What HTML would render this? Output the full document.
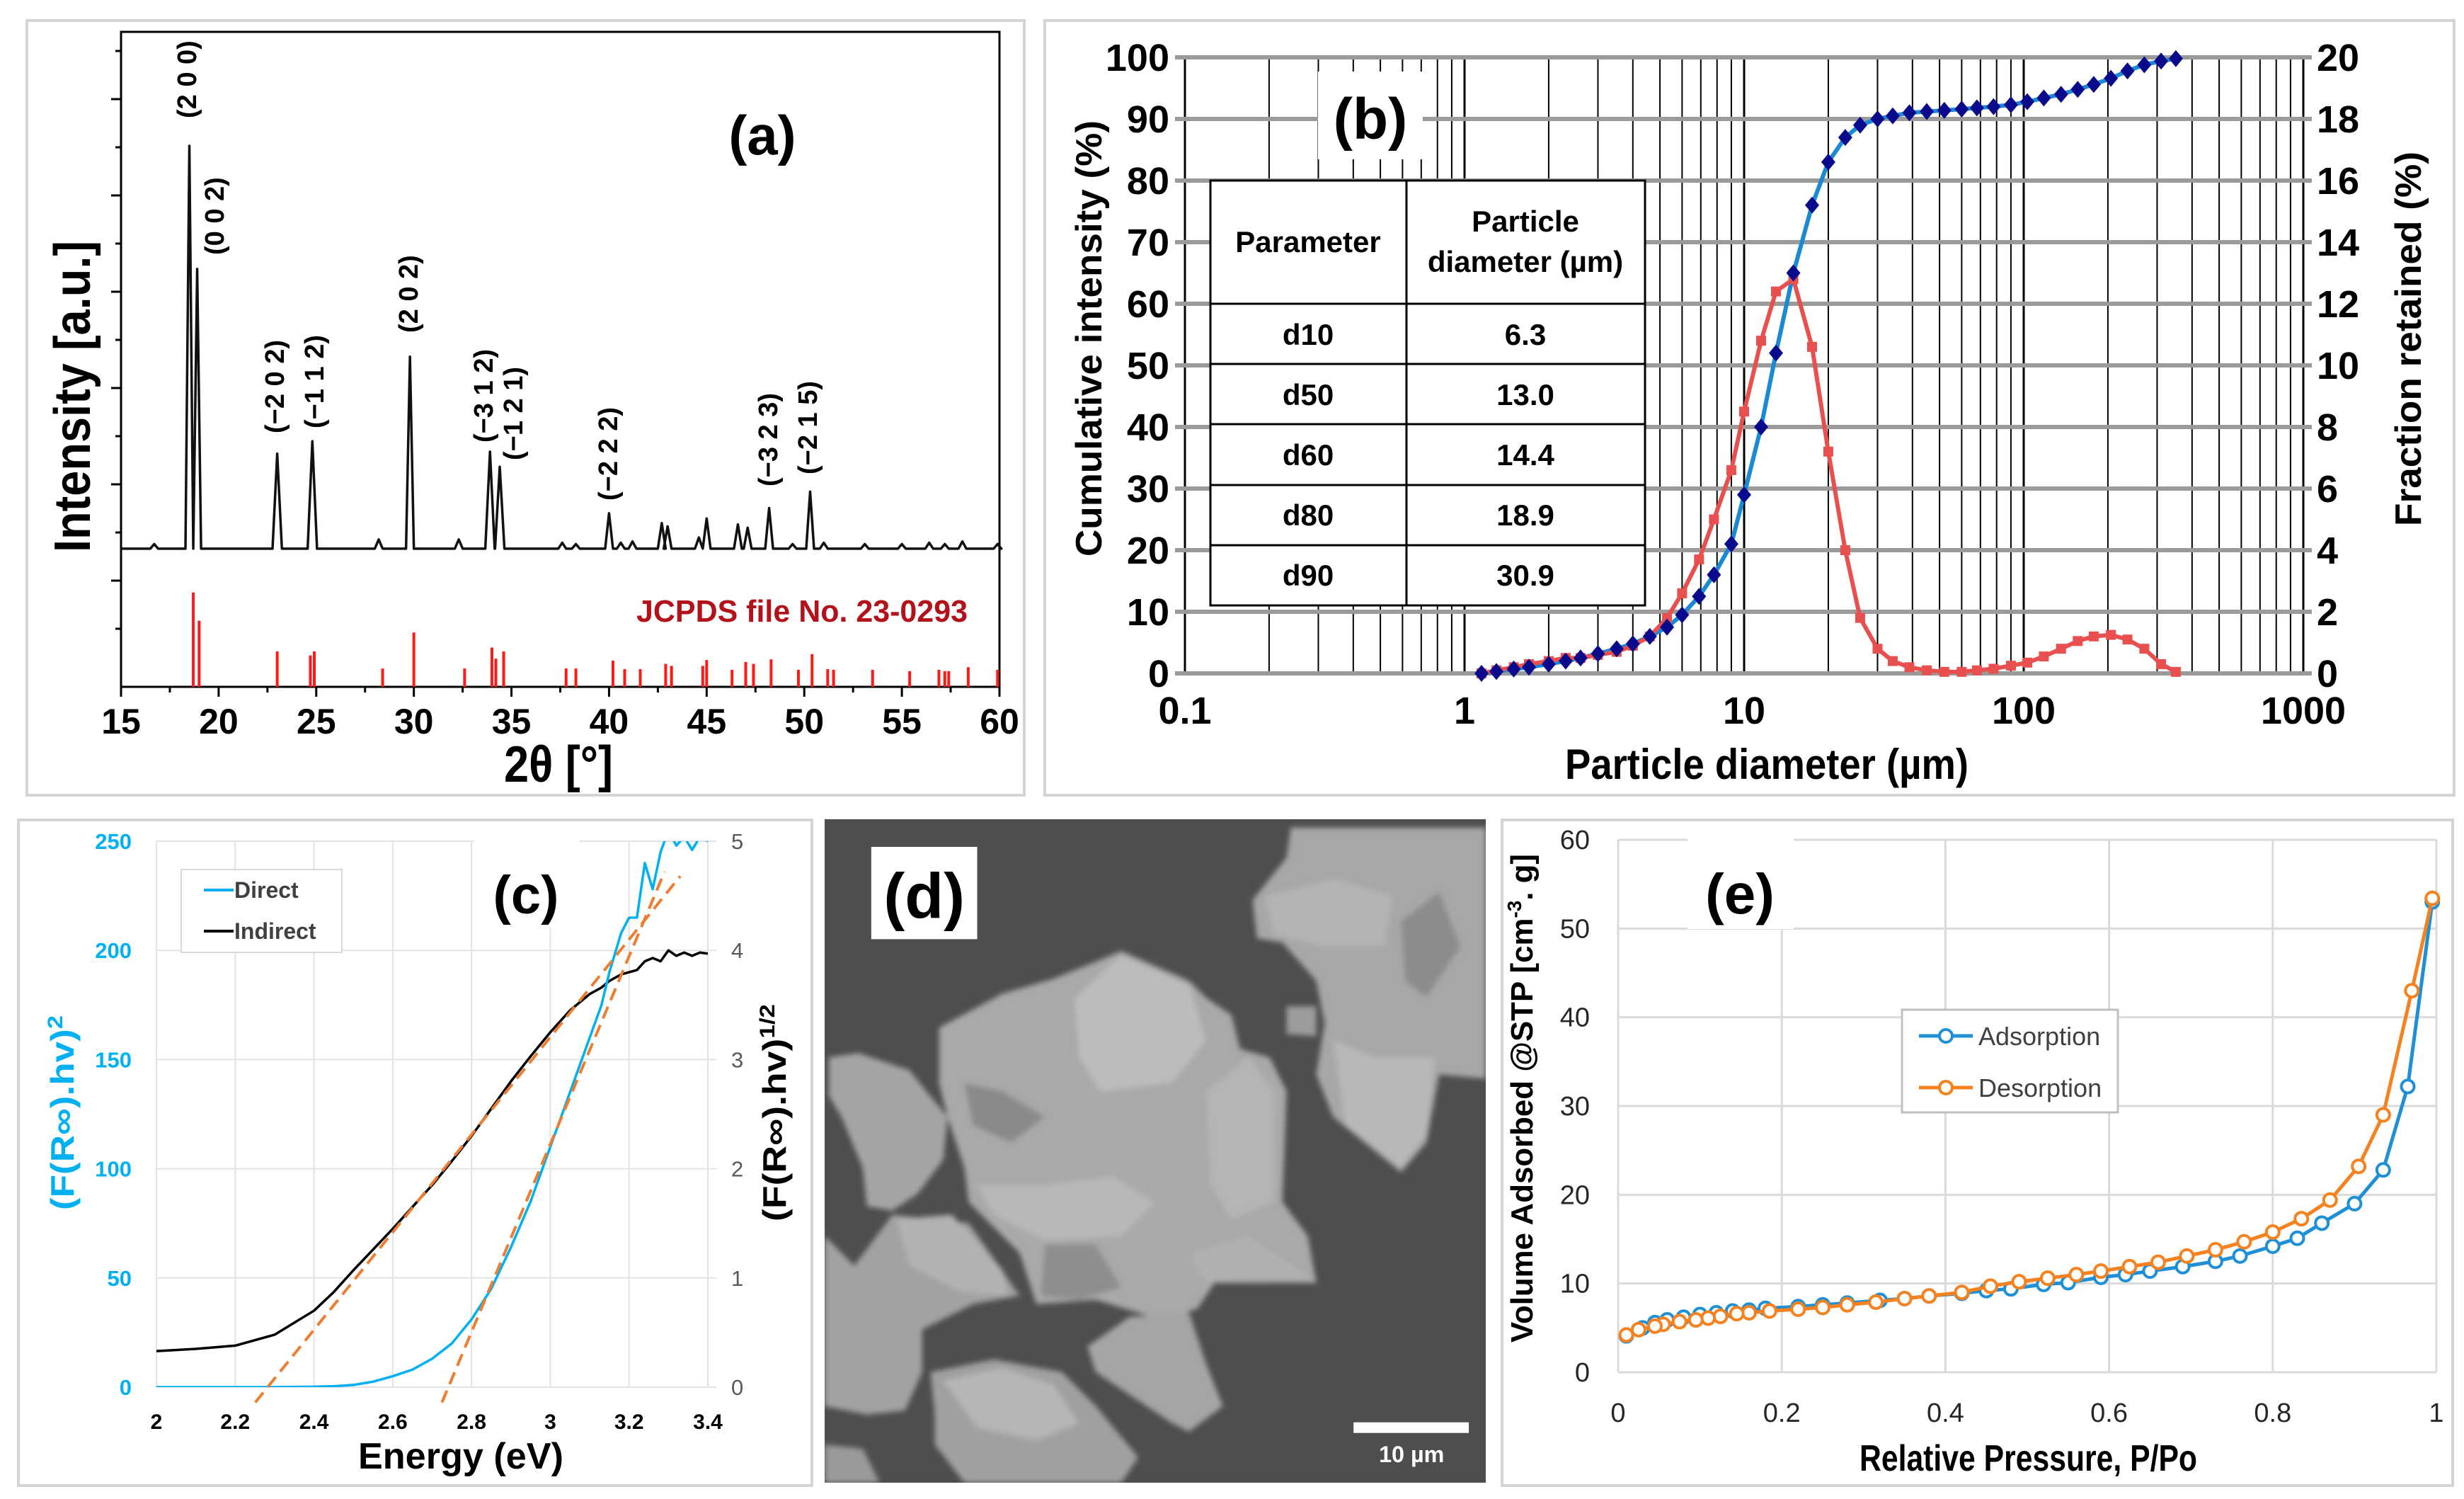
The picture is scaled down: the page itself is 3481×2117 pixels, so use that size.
<!DOCTYPE html>
<html>
<head>
<meta charset="utf-8">
<style>
body{margin:0;background:#fff}
svg{display:block}
text{font-family:"Liberation Sans",sans-serif}
.nar{font-family:"Liberation Sans Narrow","Liberation Sans",sans-serif}
</style>
</head>
<body>
<svg id="fig" xmlns="http://www.w3.org/2000/svg" width="3481" height="2117" viewBox="0 0 3481 2117">
<defs>
<clipPath id="clipC"><rect x="221" y="1188" width="779" height="771"/></clipPath>
</defs>
<rect width="3481" height="2117" fill="#fff"/>

<!-- ================= PANEL A ================= -->
<g id="panel-a">
<rect x="38" y="29" width="1409" height="1094" fill="none" stroke="#d4d4d4" stroke-width="4"/>
<rect x="171" y="45" width="1241" height="925" fill="none" stroke="#000" stroke-width="3"/>
<g id="plot-a"></g>
<text x="1077" y="218" font-size="78" font-weight="bold" text-anchor="middle">(a)</text>
<text x="899" y="878" font-size="44" font-weight="bold" fill="#b3121b" textLength="468" lengthAdjust="spacingAndGlyphs">JCPDS file No. 23-0293</text>
<text transform="translate(127,780) rotate(-90)" font-size="72" font-weight="bold" textLength="440" lengthAdjust="spacingAndGlyphs">Intensity [a.u.]</text>
<text x="712" y="1104" font-size="72" font-weight="bold" textLength="154" lengthAdjust="spacingAndGlyphs">2θ [°]</text>
<g font-size="38" font-weight="bold">
<text transform="translate(265,167) rotate(-90)" dominant-baseline="central">(2 0 0)</text>
<text transform="translate(304,360) rotate(-90)" dominant-baseline="central">(0 0 2)</text>
<text transform="translate(389,612) rotate(-90)" dominant-baseline="central">(−2 0 2)</text>
<text transform="translate(445,605) rotate(-90)" dominant-baseline="central">(−1 1 2)</text>
<text transform="translate(578,470) rotate(-90)" dominant-baseline="central">(2 0 2)</text>
<text transform="translate(684,625) rotate(-90)" dominant-baseline="central">(−3 1 2)</text>
<text transform="translate(726,650) rotate(-90)" dominant-baseline="central">(−1 2 1)</text>
<text transform="translate(860,707) rotate(-90)" dominant-baseline="central">(−2 2 2)</text>
<text transform="translate(1086,687) rotate(-90)" dominant-baseline="central">(−3 2 3)</text>
<text transform="translate(1142,670) rotate(-90)" dominant-baseline="central">(−2 1 5)</text>
</g>
</g>

<!-- ================= PANEL B ================= -->
<g id="panel-b">
<rect x="1476" y="29" width="1991" height="1094" fill="none" stroke="#d4d4d4" stroke-width="4"/>
<g id="grid-b"></g>
<rect x="1862" y="101" width="148" height="124" fill="#fff"/>
<text x="1936" y="196" font-size="82" font-weight="bold" text-anchor="middle" class="nar">(b)</text>
<g id="plot-b"></g>
<g class="nar" font-weight="bold" font-size="42" text-anchor="middle">
<rect x="1710" y="255" width="614" height="600" fill="#fff" stroke="#000" stroke-width="3"/>
<line x1="1987" y1="255" x2="1987" y2="855" stroke="#000" stroke-width="3"/>
<line x1="1710" y1="429" x2="2324" y2="429" stroke="#000" stroke-width="3"/>
<line x1="1710" y1="514" x2="2324" y2="514" stroke="#000" stroke-width="3"/>
<line x1="1710" y1="599" x2="2324" y2="599" stroke="#000" stroke-width="3"/>
<line x1="1710" y1="685" x2="2324" y2="685" stroke="#000" stroke-width="3"/>
<line x1="1710" y1="770" x2="2324" y2="770" stroke="#000" stroke-width="3"/>
<text x="1848" y="356">Parameter</text>
<text x="2155" y="327">Particle</text>
<text x="2155" y="384">diameter (µm)</text>
<text x="1848" y="487">d10</text><text x="2155" y="487">6.3</text>
<text x="1848" y="572">d50</text><text x="2155" y="572">13.0</text>
<text x="1848" y="657">d60</text><text x="2155" y="657">14.4</text>
<text x="1848" y="742">d80</text><text x="2155" y="742">18.9</text>
<text x="1848" y="827">d90</text><text x="2155" y="827">30.9</text>
</g>
<text transform="translate(1556,786) rotate(-90)" font-size="52" font-weight="bold" textLength="616" lengthAdjust="spacingAndGlyphs">Cumulative intensity (%)</text>
<text transform="translate(3420,743) rotate(-90)" font-size="52" font-weight="bold" textLength="529" lengthAdjust="spacingAndGlyphs">Fraction retained (%)</text>
<text x="2211" y="1100" font-size="60" font-weight="bold" class="nar" textLength="570" lengthAdjust="spacingAndGlyphs">Particle diameter (µm)</text>
</g>

<!-- ================= PANEL C ================= -->
<g id="panel-c">
<rect x="26" y="1158" width="1121" height="940" fill="none" stroke="#d4d4d4" stroke-width="4"/>
<g id="grid-c"></g>
<rect x="670" y="1180" width="148" height="130" fill="#fff"/>
<text x="743" y="1290" font-size="76" font-weight="bold" text-anchor="middle" class="nar">(c)</text>
<g id="plot-c" clip-path="url(#clipC)"></g>
<g>
<rect x="256" y="1228" width="227" height="117" fill="#fff" stroke="#d9d9d9" stroke-width="2"/>
<line x1="288" y1="1257" x2="330" y2="1257" stroke="#00b0f0" stroke-width="4"/>
<text x="331" y="1268" font-size="32" font-weight="bold" fill="#404040" class="nar">Direct</text>
<line x1="288" y1="1315" x2="330" y2="1315" stroke="#000" stroke-width="4"/>
<text x="331" y="1326" font-size="32" font-weight="bold" fill="#404040" class="nar">Indirect</text>
</g>
<text transform="translate(104,1709) rotate(-90)" font-size="46" font-weight="bold" fill="#00b0f0" textLength="275" lengthAdjust="spacingAndGlyphs">(F(R∞).hv)<tspan font-size="30" dy="-16">2</tspan></text>
<text transform="translate(1110,1725) rotate(-90)" font-size="46" font-weight="bold" fill="#000" textLength="307" lengthAdjust="spacingAndGlyphs">(F(R∞).hv)<tspan font-size="30" dy="-16">1/2</tspan></text>
<text x="506" y="2074" font-size="52" font-weight="bold" textLength="290" lengthAdjust="spacingAndGlyphs">Energy (eV)</text>
</g>

<!-- ================= PANEL D (SEM) ================= -->
<g id="panel-d">
<svg x="1165" y="1157" width="934" height="937" viewBox="0 0 1560 1560" preserveAspectRatio="none">
<defs><filter id="blurSem" x="-10%" y="-10%" width="120%" height="120%"><feGaussianBlur stdDeviation="6"/></filter></defs>
<rect width="1560" height="1560" fill="#4e4e4e"/>
<g filter="url(#blurSem)">
<polygon fill="#a4a4a4" points="10,560 80,550 200,590 240,640 290,700 280,800 220,880 160,920 100,910 90,820 40,700 10,650"/>
<polygon fill="#a9a9a9" points="270,490 420,410 540,375 640,335 700,310 860,380 900,420 960,460 980,540 1050,560 1090,640 1080,900 1140,980 1160,1090 920,1090 880,1150 800,1180 740,1160 640,1130 500,1140 460,1020 400,960 340,900 330,820 290,700 270,620"/>
<polygon fill="#a7a7a7" points="1010,190 1090,90 1100,20 1560,20 1560,610 1450,600 1420,760 1360,830 1200,700 1160,600 1180,480 1160,380 1080,290 1020,280"/>
<polygon fill="#9c9c9c" points="1090,440 1160,440 1160,510 1090,505"/>
<polygon fill="#a2a2a2" points="0,980 70,1050 160,930 340,950 460,1120 350,1140 230,1200 230,1300 190,1390 100,1400 0,1380"/>
<polygon fill="#a5a5a5" points="620,1240 720,1170 860,1160 900,1280 940,1380 860,1440 820,1420 730,1360 640,1300"/>
<polygon fill="#a0a0a0" points="250,1300 400,1270 560,1300 640,1380 740,1500 700,1560 330,1560 260,1470 260,1400"/>
<polygon fill="#9a9a9a" points="0,1470 90,1480 130,1560 0,1560"/>
<polygon fill="#bcbcbc" points="590,420 700,320 860,390 900,520 820,620 650,640 600,560"/>
<polygon fill="#b5b5b5" points="900,640 1000,560 1060,640 1060,900 960,940 910,860"/>
<polygon fill="#b8b8b8" points="360,860 520,860 680,840 780,900 700,980 520,990 400,930"/>
<polygon fill="#b4b4b4" points="1040,180 1200,140 1340,180 1320,300 1180,300 1060,270"/>
<polygon fill="#b8b8b8" points="1200,520 1300,560 1440,560 1420,740 1360,820 1230,720"/>
<polygon fill="#b2b2b2" points="170,940 300,930 420,1060 430,1120 320,1110 200,1050"/>
<polygon fill="#b0b0b0" points="860,1020 1000,980 1150,1080 900,1090"/>
<polygon fill="#8a8a8a" points="330,620 420,640 520,700 440,760 350,720"/>
<polygon fill="#8e8e8e" points="520,1000 640,1000 700,1100 600,1130 510,1120"/>
<polygon fill="#8c8c8c" points="1360,240 1450,170 1500,300 1420,420 1370,380"/>
<polygon fill="#b6b6b6" points="280,1320 420,1290 540,1330 600,1420 500,1460 360,1430"/>
</g>
<rect x="110" y="65" width="250" height="217" fill="#fff"/>
<text x="235" y="232" font-size="150" font-weight="bold" text-anchor="middle">(d)</text>
<rect x="1248" y="1418" width="272" height="25" fill="#fff"/>
<text x="1385" y="1512" font-size="54" font-weight="bold" fill="#fff" text-anchor="middle">10 µm</text>
</svg>
</g>

<!-- ================= PANEL E ================= -->
<g id="panel-e">
<rect x="2122" y="1158" width="1343" height="940" fill="none" stroke="#d4d4d4" stroke-width="4"/>
<g id="grid-e"></g>
<rect x="2384" y="1180" width="150" height="132" fill="#fff"/>
<text x="2458" y="1290" font-size="80" font-weight="bold" text-anchor="middle" class="nar">(e)</text>
<g id="plot-e"></g>
<g>
<rect x="2687" y="1426" width="305" height="145" fill="#fff" stroke="#bfbfbf" stroke-width="3"/>
<line x1="2711" y1="1463" x2="2787" y2="1463" stroke="#1f8fd6" stroke-width="5"/>
<circle cx="2749" cy="1463" r="9" fill="#fff" stroke="#1f8fd6" stroke-width="4"/>
<text x="2795" y="1476" font-size="36" fill="#404040" class="nar">Adsorption</text>
<line x1="2711" y1="1536" x2="2787" y2="1536" stroke="#f5821f" stroke-width="5"/>
<circle cx="2749" cy="1536" r="9" fill="#fff" stroke="#f5821f" stroke-width="4"/>
<text x="2795" y="1549" font-size="36" fill="#404040" class="nar">Desorption</text>
</g>
<text transform="translate(2165,1896) rotate(-90)" font-size="44" font-weight="bold" textLength="690" lengthAdjust="spacingAndGlyphs">Volume Adsorbed  @STP [cm<tspan font-size="28" dy="-16">-3</tspan><tspan dy="16">. g]</tspan></text>
<text x="2627" y="2077" font-size="52" font-weight="bold" class="nar" textLength="477" lengthAdjust="spacingAndGlyphs">Relative Pressure, P/Po</text>
</g>
</svg>

<script>
// ---------- Panel A data ----------
const xrdBaseline = 211;
const xrdPeakPos = [16.7, 18.5, 18.9, 23.0, 24.8, 28.2, 29.8, 32.3, 33.9, 34.4, 37.6, 38.3, 40.0, 40.6, 41.2, 42.7, 43.0, 44.6, 45.0, 46.6, 47.1, 48.2, 49.4, 50.3, 51.0, 53.1, 55.0, 56.4, 57.2, 58.1, 59.9];
const xrdPeakInt = [218, 826, 638, 356, 375, 225, 504, 225, 359, 336, 220, 218, 265, 220, 222, 250, 245, 228, 257, 248, 243, 273, 218, 298, 220, 218, 218, 220, 218, 222, 218];
const refPos = [18.7, 19.0, 23.0, 24.7, 24.9, 28.4, 30.0, 32.6, 34.0, 34.2, 34.6, 37.8, 38.3, 40.2, 40.8, 41.6, 42.9, 43.2, 44.8, 45.0, 46.3, 47.0, 47.4, 48.3, 49.7, 50.4, 51.2, 51.5, 53.5, 55.4, 56.9, 57.2, 57.4, 58.4, 59.9];
const refInt = [144, 101, 54, 48, 54, 28, 83, 28, 60, 43, 54, 28, 28, 40, 27, 27, 35, 32, 32, 41, 26, 38, 35, 42, 26, 50, 27, 26, 26, 24, 26, 24, 24, 30, 26];
const xrdTicks = [15, 20, 25, 30, 35, 40, 45, 50, 55, 60];

// ---------- Panel B data ----------
const psdSize = [1.15, 1.3, 1.5, 1.7, 2, 2.3, 2.6, 3, 3.5, 4, 4.6, 5.3, 6, 6.9, 7.8, 9, 10, 11.5, 13, 15, 17.5, 20, 23, 26, 30, 34, 39, 45, 52, 60, 68, 78, 90, 103, 118, 136, 156, 178, 205, 235, 270, 310, 350];
const psdCumulative = [0, 0.3, 0.7, 1, 1.5, 2, 2.5, 3.2, 4, 4.8, 6, 7.5, 9.5, 12.5, 16, 21, 29, 40, 52, 65, 76, 83, 87, 89, 90, 90.5, 91, 91.2, 91.4, 91.6, 91.8, 92, 92.3, 92.8, 93.4, 94, 94.8, 95.6, 96.6, 97.8, 98.8, 99.4, 99.8];
const psdFraction = [0, 0.1, 0.2, 0.3, 0.4, 0.5, 0.5, 0.6, 0.7, 0.9, 1.2, 1.8, 2.6, 3.7, 5, 6.6, 8.5, 10.8, 12.4, 12.8, 10.6, 7.2, 4.0, 1.8, 0.8, 0.4, 0.2, 0.1, 0.05, 0.05, 0.1, 0.15, 0.25, 0.35, 0.55, 0.8, 1.05, 1.2, 1.25, 1.1, 0.8, 0.3, 0.05];
const psdXTicks = [0.1, 1, 10, 100, 1000];
const psdXTickLabels = ["0.1", "1", "10", "100", "1000"];
const psdLeftTicks = [0, 10, 20, 30, 40, 50, 60, 70, 80, 90, 100];
const psdRightTicks = [0, 2, 4, 6, 8, 10, 12, 14, 16, 18, 20];

// ---------- Panel C data ----------
const energy = [2, 2.1, 2.2, 2.3, 2.4, 2.45, 2.5, 2.55, 2.6, 2.65, 2.7, 2.75, 2.8, 2.85, 2.9, 2.95, 3.0, 3.05, 3.1, 3.13, 3.15, 3.18, 3.2, 3.22, 3.24, 3.26, 3.28, 3.3, 3.32, 3.34, 3.36, 3.38, 3.4];
const directVals = [0, 0, 0, 0, 0.2, 0.4, 1, 2.5, 5, 8, 13, 20, 31, 45, 64, 85, 110, 135, 160, 175, 190, 208, 215, 215, 240, 228, 245, 255, 248, 252, 246, 252, 250];
const indirectVals = [0.33, 0.35, 0.38, 0.48, 0.7, 0.87, 1.07, 1.26, 1.45, 1.65, 1.85, 2.07, 2.3, 2.55, 2.8, 3.03, 3.25, 3.45, 3.6, 3.66, 3.72, 3.78, 3.8, 3.82, 3.9, 3.93, 3.9, 4.0, 3.95, 3.98, 3.95, 3.98, 3.97];
const tangentDirectE = [2.725, 3.29];
const tangentDirectV = [-7, 236];
const tangentIndirectE = [2.251, 3.33];
const tangentIndirectV = [-0.14, 4.68];
const energyTicks = [2, 2.2, 2.4, 2.6, 2.8, 3, 3.2, 3.4];
const directTicks = [0, 50, 100, 150, 200, 250];
const indirectTicks = [0, 1, 2, 3, 4, 5];

// ---------- Panel E data ----------
const adsP = [0.01, 0.03, 0.045, 0.06, 0.08, 0.1, 0.12, 0.14, 0.16, 0.18, 0.22, 0.25, 0.28, 0.32, 0.35, 0.38, 0.42, 0.45, 0.48, 0.52, 0.55, 0.59, 0.62, 0.65, 0.69, 0.73, 0.76, 0.8, 0.83, 0.86, 0.9, 0.935, 0.965, 0.995];
const adsV = [4.1, 5.0, 5.6, 5.9, 6.2, 6.5, 6.7, 6.9, 7.0, 7.2, 7.4, 7.6, 7.8, 8.1, 8.3, 8.6, 8.9, 9.2, 9.4, 9.9, 10.1, 10.7, 11.0, 11.4, 11.9, 12.5, 13.1, 14.2, 15.1, 16.8, 19.0, 22.8, 32.2, 53.0];
const desP = [0.995, 0.97, 0.935, 0.905, 0.87, 0.835, 0.8, 0.765, 0.73, 0.695, 0.66, 0.625, 0.59, 0.56, 0.525, 0.49, 0.455, 0.42, 0.38, 0.35, 0.315, 0.28, 0.25, 0.22, 0.185, 0.16, 0.145, 0.125, 0.11, 0.095, 0.075, 0.055, 0.045, 0.025, 0.01];
const desV = [53.4, 43.0, 29.0, 23.2, 19.4, 17.3, 15.8, 14.7, 13.8, 13.1, 12.4, 11.9, 11.4, 11.0, 10.6, 10.2, 9.7, 9.0, 8.6, 8.3, 7.9, 7.6, 7.3, 7.1, 6.9, 6.7, 6.6, 6.3, 6.1, 5.9, 5.7, 5.4, 5.2, 4.8, 4.2];
const pressureTicks = [0, 0.2, 0.4, 0.6, 0.8, 1];
const volumeTicks = [0, 10, 20, 30, 40, 50, 60];

const NS = 'http://www.w3.org/2000/svg';
function add(parent, tag, attrs, txt) {
  const e = document.createElementNS(NS, tag);
  for (const k in attrs) e.setAttribute(k, attrs[k]);
  if (txt !== undefined) e.textContent = txt;
  parent.appendChild(e);
  return e;
}

// ================= PANEL A =================
(function () {
  const g = document.getElementById('plot-a');
  const xA = v => 171 + (v - 15) / 45 * 1241;
  const yA = v => 970 - v * 0.925;
  for (let k = 0; k < 13; k++) {
    const y = 72 + 68 * k;
    const t = add(g, 'line', { x1: 171, x2: k % 2 ? 157 : 163, y1: y, y2: y, stroke: '#000', 'stroke-width': 3 });
    
    
  }
  xrdTicks.forEach((v, i) => {
    const t = add(g, 'line', { x1: xA(v), x2: xA(v), y1: 970, y2: 984, stroke: '#000', 'stroke-width': 3 });
    
    
    const l = add(g, 'text', { x: xA(v), y: 1036, 'font-size': 50, 'font-weight': 'bold', 'text-anchor': 'middle' }, String(v));
    
    
    if (i < xrdTicks.length - 1) {
      const m = add(g, 'line', { x1: xA(v + 2.5), x2: xA(v + 2.5), y1: 970, y2: 978, stroke: '#000', 'stroke-width': 3 });
      
      
    }
  });
  let d = `M${xA(15)},${yA(xrdBaseline)}`;
  xrdPeakPos.forEach((p, i) => {
    const w = xrdPeakInt[i] > 500 ? 0.2 : (xrdPeakInt[i] > 300 ? 0.24 : 0.2);
    d += ` L${xA(p - w)},${yA(xrdBaseline)} L${xA(p)},${yA(xrdPeakInt[i])} L${xA(p + w)},${yA(xrdBaseline)}`;
  });
  d += ` L${xA(60)},${yA(xrdBaseline)}`;
  const path = add(g, 'path', { d: d, fill: 'none', stroke: '#111', 'stroke-width': 3.5, 'stroke-linejoin': 'round' });
  
  
  refPos.forEach((p, i) => {
    const s = add(g, 'line', { x1: xA(p), x2: xA(p), y1: yA(0), y2: yA(refInt[i]), stroke: '#ff1a1a', 'stroke-width': 4 });
    
    
  });
})();

// ================= PANEL B =================
(function () {
  const grid = document.getElementById('grid-b');
  const g = document.getElementById('plot-b');
  const xB = v => 1674 + (Math.log10(v) + 1) * 395;
  const yL = v => 951 - v * 8.7;
  const yR = v => 951 - v * 43.5;
  for (let dec = -1; dec <= 2; dec++) {
    for (let m = 1; m <= 9; m++) {
      const v = m * Math.pow(10, dec);
      const l = add(grid, 'line', { x1: xB(v), x2: xB(v), y1: 81, y2: 951, stroke: '#000', 'stroke-width': m === 1 ? 3 : 2 });
      
      
    }
  }
  const lEnd = add(grid, 'line', { x1: xB(1000), x2: xB(1000), y1: 81, y2: 951, stroke: '#000', 'stroke-width': 3 });
  
  
  psdLeftTicks.forEach(v => {
    const h = add(grid, 'line', { x1: 1660, x2: 3266, y1: yL(v), y2: yL(v), stroke: '#9a9a9a', 'stroke-width': 6 });
    
    
    const t = add(grid, 'text', { x: 1652, y: yL(v) + 19, 'font-size': 54, 'font-weight': 'bold', 'text-anchor': 'end', class: 'nar' }, String(v));
    
    
  });
  psdRightTicks.forEach(v => {
    const t = add(grid, 'text', { x: 3273, y: yR(v) + 19, 'font-size': 54, 'font-weight': 'bold', class: 'nar' }, String(v));
    
    
  });
  psdXTicks.forEach((v, i) => {
    const t = add(grid, 'text', { x: xB(v), y: 1022, 'font-size': 54, 'font-weight': 'bold', 'text-anchor': 'middle', class: 'nar' }, psdXTickLabels[i]);
    
    
  });
  const cumPts = psdSize.map((s, i) => `${xB(s)},${yL(psdCumulative[i])}`).join(' ');
  const cl = add(g, 'polyline', { points: cumPts, fill: 'none', stroke: '#1a8ad4', 'stroke-width': 6, 'stroke-linejoin': 'round' });
  
  
  const frPts = psdSize.map((s, i) => `${xB(s)},${yR(psdFraction[i])}`).join(' ');
  const fl = add(g, 'polyline', { points: frPts, fill: 'none', stroke: '#e8504f', 'stroke-width': 6, 'stroke-linejoin': 'round' });
  
  
  psdSize.forEach((s, i) => {
    const x = xB(s), y = yR(psdFraction[i]);
    const sq = add(g, 'rect', { x: x - 7, y: y - 7, width: 14, height: 14, fill: '#e8504f' });
    
    
  });
  psdSize.forEach((s, i) => {
    const x = xB(s), y = yL(psdCumulative[i]);
    const dm = add(g, 'polygon', { points: `${x},${y - 12} ${x + 10},${y} ${x},${y + 12} ${x - 10},${y}`, fill: '#0a0a8c' });
    
    
  });
})();

// ================= PANEL C =================
(function () {
  const grid = document.getElementById('grid-c');
  const g = document.getElementById('plot-c');
  const xC = v => 221 + (v - 2) / 1.4 * 779;
  const yL = v => 1959 - v / 250 * 771;
  const yR = v => 1959 - v / 5 * 771;
  energyTicks.forEach(v => {
    const l = add(grid, 'line', { x1: xC(v), x2: xC(v), y1: 1188, y2: 1959, stroke: '#e3e3e3', 'stroke-width': 2 });
    
    
    const t = add(grid, 'text', { x: xC(v), y: 2018, 'font-size': 30, 'font-weight': 'bold', 'text-anchor': 'middle' }, String(v));
    
    
  });
  directTicks.forEach(v => {
    const l = add(grid, 'line', { x1: 221, x2: 1012, y1: yL(v), y2: yL(v), stroke: '#e3e3e3', 'stroke-width': 2 });
    
    
    const t = add(grid, 'text', { x: 186, y: yL(v) + 11, 'font-size': 31, 'font-weight': 'bold', 'text-anchor': 'end', fill: '#00b0f0' }, String(v));
    
    
  });
  indirectTicks.forEach(v => {
    const t = add(grid, 'text', { x: 1033, y: yR(v) + 11, 'font-size': 31, fill: '#595959' }, String(v));
    
    
  });
  const ind = add(g, 'polyline', { points: energy.map((e, i) => `${xC(e)},${yR(indirectVals[i])}`).join(' '), fill: 'none', stroke: '#000', 'stroke-width': 3.5, 'stroke-linejoin': 'round' });
  
  
  const dir = add(g, 'polyline', { points: energy.map((e, i) => `${xC(e)},${yL(directVals[i])}`).join(' '), fill: 'none', stroke: '#00b0f0', 'stroke-width': 3.5, 'stroke-linejoin': 'round' });
  
  
  const gAll = document.getElementById('panel-c');
  const t1 = add(gAll, 'line', { x1: xC(tangentDirectE[0]), y1: yL(tangentDirectV[0]), x2: xC(tangentDirectE[1]), y2: yL(tangentDirectV[1]), stroke: '#ed7d31', 'stroke-width': 4, 'stroke-dasharray': '18 10' });
  
  
  const t2 = add(gAll, 'line', { x1: xC(tangentIndirectE[0]), y1: yR(tangentIndirectV[0]), x2: xC(tangentIndirectE[1]), y2: yR(tangentIndirectV[1]), stroke: '#ed7d31', 'stroke-width': 4, 'stroke-dasharray': '18 10' });
  
  
})();

// ================= PANEL E =================
(function () {
  const grid = document.getElementById('grid-e');
  const g = document.getElementById('plot-e');
  const xE = v => 2286 + v * 1156;
  const yE = v => 1938 - v / 60 * 752;
  pressureTicks.forEach(v => {
    const l = add(grid, 'line', { x1: xE(v), x2: xE(v), y1: 1186, y2: 1938, stroke: '#dadada', 'stroke-width': 3 });
    
    
    const t = add(grid, 'text', { x: xE(v), y: 2008, 'font-size': 38, 'text-anchor': 'middle', class: 'nar', fill: '#262626' }, String(v));
    
    
  });
  volumeTicks.forEach(v => {
    const l = add(grid, 'line', { x1: 2286, x2: 3442, y1: yE(v), y2: yE(v), stroke: '#dadada', 'stroke-width': 3 });
    
    
    const t = add(grid, 'text', { x: 2246, y: yE(v) + 13, 'font-size': 38, 'text-anchor': 'end', class: 'nar', fill: '#262626' }, String(v));
    
    
  });
  const al = add(g, 'polyline', { points: adsP.map((p, i) => `${xE(p)},${yE(adsV[i])}`).join(' '), fill: 'none', stroke: '#1f8fd6', 'stroke-width': 5, 'stroke-linejoin': 'round' });
  
  
  adsP.forEach((p, i) => {
    const c = add(g, 'circle', { cx: xE(p), cy: yE(adsV[i]), r: 9, fill: '#fff', stroke: '#1f8fd6', 'stroke-width': 4 });
    
    
  });
  const dl = add(g, 'polyline', { points: desP.map((p, i) => `${xE(p)},${yE(desV[i])}`).join(' '), fill: 'none', stroke: '#f5821f', 'stroke-width': 5, 'stroke-linejoin': 'round' });
  
  
  desP.forEach((p, i) => {
    const c = add(g, 'circle', { cx: xE(p), cy: yE(desV[i]), r: 9, fill: '#fff', stroke: '#f5821f', 'stroke-width': 4 });
    
    
  });
})();
</script>
</body>
</html>
